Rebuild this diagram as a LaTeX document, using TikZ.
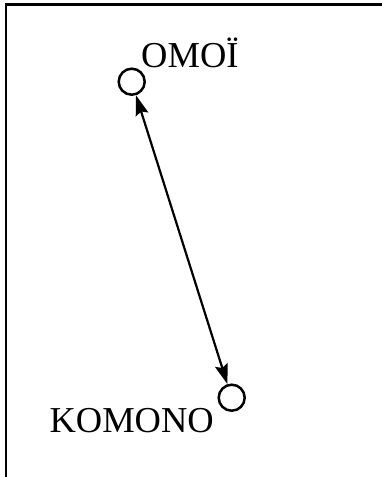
\documentclass[tikz,border=0pt]{standalone}
\usepackage{fontspec}
\setmainfont{Liberation Serif}
\usetikzlibrary{arrows.meta}
\begin{document}
\begin{tikzpicture}[x=1pt,y=-1pt,
  circ/.style={circle,draw,line width=2.5pt,minimum size=26pt,inner sep=0pt},
  lbl/.style={inner sep=0pt,font=\fontsize{36.5}{42}\selectfont},
  link/.style={line width=2.2pt,{Stealth[length=20pt,width=13pt,inset=3pt]}-{Stealth[length=20pt,width=13pt,inset=3pt]}}]
\useasboundingbox (0,0) rectangle (382,477);
\draw[line width=2.6pt] (6,477) -- (6,4.5) -- (382,4.5);
\node[circ] (a) at (131.7,81.7) {};
\node[circ] (b) at (231.7,397.7) {};
\draw[link] (a) -- (b);
\node[lbl,anchor=base west] (ta) at (141,67.5) {OMOÏ};
\node[lbl,anchor=base east] (tb) at (214,432) {KOMONO};
\end{tikzpicture}
\end{document}
